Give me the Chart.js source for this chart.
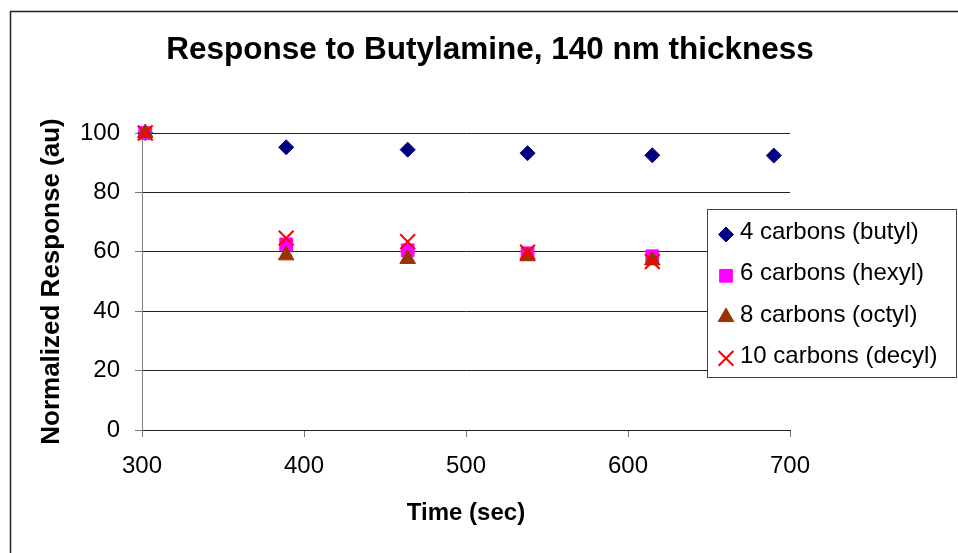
<!DOCTYPE html>
<html lang="en">
<head>
  <meta charset="UTF-8" />
  <title>Response to Butylamine, 140 nm thickness</title>
  <script src="https://cdn.jsdelivr.net/npm/chart.js"></script>
  <style>
    body { margin: 0; background: #fff; }
    canvas { display: block; }
  </style>
</head>
<body>
  <canvas id="respChart" width="958" height="553"></canvas>

  <script>
  // data
  const times = [302, 389, 464, 538, 615, 690];
  const butyl = [100, 95.2, 94.4, 93.2, 92.5, 92.4];
  const hexyl = [100, 62.5, 60.5, 59.5, 58.5];
  const octyl = [100, 58.8, 57.6, 58.5, 57.1];
  const decyl = [100, 64.6, 63.4, 59.9, 56.7];
  const seriesNames = ['4 carbons (butyl)', '6 carbons (hexyl)', '8 carbons (octyl)', '10 carbons (decyl)'];
  const xTicks = [300, 400, 500, 600, 700];
  const yTicks = [0, 20, 40, 60, 80, 100];

  const FONT = "'Liberation Sans', Arial, sans-serif";

  const toPoints = vals => vals.map((v, i) => ({ x: times[i], y: v }));

  const datasets = [
    { label: seriesNames[0], data: toPoints(butyl), pointStyle: 'rectRot', pointRadius: 7.5,
      backgroundColor: '#000080', borderColor: '#000080', borderWidth: 1, order: 4, clip: false },
    { label: seriesNames[1], data: toPoints(hexyl), pointStyle: 'rect', pointRadius: 9,
      backgroundColor: '#ff00ff', borderColor: '#ff00ff', borderWidth: 1, order: 3, clip: false },
    { label: seriesNames[2], data: toPoints(octyl), pointStyle: 'triangle', pointRadius: 9,
      backgroundColor: '#993300', borderColor: '#993300', borderWidth: 1, order: 2, clip: false },
    { label: seriesNames[3], data: toPoints(decyl), pointStyle: 'crossRot', pointRadius: 10.5,
      backgroundColor: '#ff0000', borderColor: '#ff0000', borderWidth: 2, order: 1, clip: false }
  ];

  // outer frame + legend box that sits over the plot
  const framePlugin = {
    id: 'frame',
    beforeDraw(chart) {
      const ctx = chart.ctx;
      ctx.save();
      ctx.fillStyle = '#fff';
      ctx.fillRect(0, 0, chart.width, chart.height);
      ctx.strokeStyle = '#222';
      ctx.lineWidth = 1.5;
      ctx.strokeRect(10.5, 11.5, 1200, 1200);
      ctx.restore();
    },
    afterDatasetsDraw(chart) {
      const ctx = chart.ctx;
      ctx.save();
      ctx.fillStyle = '#fff';
      ctx.fillRect(707.5, 209.5, 250, 168);
      ctx.strokeStyle = '#444';
      ctx.lineWidth = 1;
      ctx.strokeRect(707.5, 209.5, 249, 168);
      ctx.font = '24px ' + FONT;
      ctx.textBaseline = 'middle';
      ctx.textAlign = 'left';
      chart.data.datasets.forEach((ds, i) => {
        const y = 232.5 + i * 41.3;
        ctx.fillStyle = ds.backgroundColor;
        ctx.strokeStyle = ds.borderColor;
        ctx.lineWidth = ds.borderWidth;
        Chart.helpers.drawPoint(ctx, {
          pointStyle: ds.pointStyle, radius: ds.pointRadius, rotation: 0, borderWidth: ds.borderWidth
        }, 726, y + 2);
        ctx.fillStyle = '#000';
        ctx.fillText(ds.label, 740, y);
      });
      ctx.restore();
    }
  };

  new Chart(document.getElementById('respChart'), {
    type: 'scatter',
    data: { datasets: datasets },
    plugins: [framePlugin],
    options: {
      responsive: false,
      animation: false,
      layout: { padding: { left: 22, right: 0, top: 0, bottom: 0 } },
      plugins: {
        legend: { display: false },
        tooltip: { enabled: false },
        title: {
          display: true,
          text: 'Response to Butylamine, 140 nm thickness',
          color: '#000',
          font: { family: FONT, size: 31.5, weight: 'bold' },
          padding: { top: 31.1, bottom: 64.1 }
        }
      },
      scales: {
        x: {
          type: 'linear',
          min: 300, max: 700,
          afterFit: s => { s.height = 123; },
          afterBuildTicks: s => { s.ticks = xTicks.map(v => ({ value: v })); },
          ticks: { color: '#000', font: { family: FONT, size: 24 }, padding: 15 },
          grid: { drawOnChartArea: false, drawTicks: true, tickLength: 7, tickColor: '#777' },
          border: { display: true, color: '#222', width: 1 },
          title: {
            display: true, text: 'Time (sec)', color: '#000',
            font: { family: FONT, size: 24, weight: 'bold' }, padding: { top: 0, bottom: 25 }
          }
        },
        y: {
          min: 0, max: 100,
          afterFit: s => { s.width = 120; },
          afterBuildTicks: s => { s.ticks = yTicks.map(v => ({ value: v })); },
          ticks: { color: '#000', font: { family: FONT, size: 24 }, padding: 15 },
          grid: { color: '#222', lineWidth: 1, drawTicks: true, tickLength: 7, tickColor: '#777' },
          border: { display: true, color: '#808080', width: 1 },
          title: {
            display: true, text: 'Normalized Response (au)', color: '#000',
            font: { family: FONT, size: 26, weight: 'bold' }, padding: { top: 14.4, bottom: 0 }
          }
        },
        // empty right-hand box so the plot stops at 700 and the title stays centred on the page
        yRight: {
          position: 'right',
          min: 0, max: 100,
          afterFit: s => { s.width = 168; },
          ticks: { display: false },
          grid: { display: false },
          border: { display: false }
        }
      }
    }
  });
  </script>
</body>
</html>
